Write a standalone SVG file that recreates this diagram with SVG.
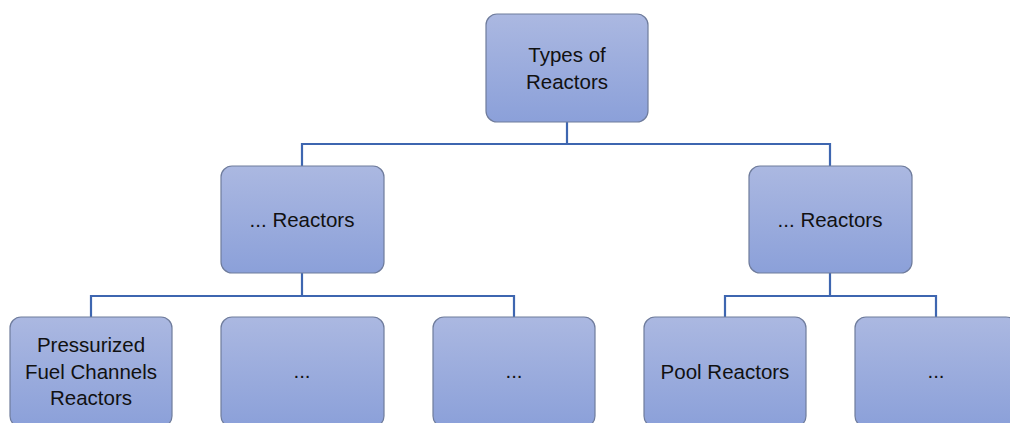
<svg xmlns="http://www.w3.org/2000/svg" width="1010" height="423" viewBox="0 0 1010 423">
<defs>
<linearGradient id="g" x1="0" y1="0" x2="0" y2="1">
<stop offset="0" stop-color="#abb8e1"/>
<stop offset="1" stop-color="#8ba0d9"/>
</linearGradient>
<style>
.box{fill:url(#g);stroke:#6f7c9c;stroke-width:1.2}
.t{font-family:"Liberation Sans",Arial,sans-serif;font-size:20.5px;fill:#111;text-anchor:middle}
.c{fill:none;stroke:#3e66b0;stroke-width:2.2}
</style>
</defs>
<rect width="1010" height="423" fill="#fff"/>
<g id="connectors">
<polyline class="c" points="567,122 567,144"/>
<polyline class="c" points="302,166 302,144 830,144 830,166"/>
<polyline class="c" points="302,273 302,296"/>
<polyline class="c" points="91,317 91,296 514,296 514,317"/>
<polyline class="c" points="830,273 830,296"/>
<polyline class="c" points="725,317 725,296 936,296 936,317"/>
</g>
<g id="n0"><rect class="box" x="486" y="14" width="162" height="108" rx="11"/><text class="t" x="567" y="62">Types of</text><text class="t" x="567" y="89">Reactors</text></g>
<g id="n1"><rect class="box" x="221" y="166" width="163" height="107" rx="11"/><text class="t" x="302" y="227">... Reactors</text></g>
<g id="n2"><rect class="box" x="749" y="166" width="163" height="107" rx="11"/><text class="t" x="830" y="227">... Reactors</text></g>
<g id="n3"><rect class="box" x="10" y="317" width="162" height="110" rx="11"/><text class="t" x="91" y="352">Pressurized</text><text class="t" x="91" y="379">Fuel Channels</text><text class="t" x="91" y="405">Reactors</text></g>
<g id="n4"><rect class="box" x="221" y="317" width="163" height="110" rx="11"/><text class="t" x="302" y="378">...</text></g>
<g id="n5"><rect class="box" x="433" y="317" width="162" height="110" rx="11"/><text class="t" x="514" y="378">...</text></g>
<g id="n6"><rect class="box" x="644" y="317" width="162" height="110" rx="11"/><text class="t" x="725" y="379">Pool Reactors</text></g>
<g id="n7"><rect class="box" x="855" y="317" width="162" height="110" rx="11"/><text class="t" x="936" y="378">...</text></g>
</svg>
